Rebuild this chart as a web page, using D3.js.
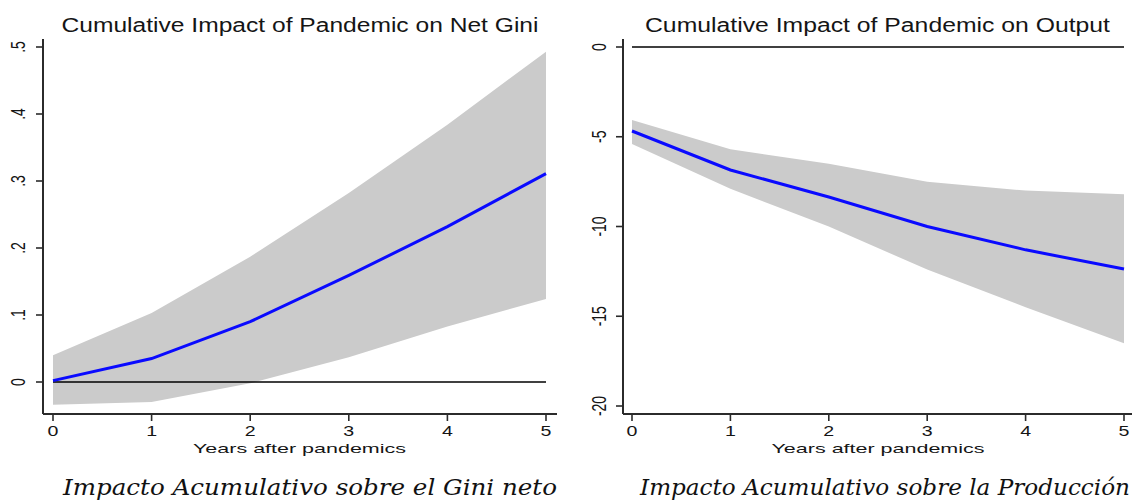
<!DOCTYPE html>
<html>
<head>
<meta charset="utf-8">
<script src="https://cdn.jsdelivr.net/npm/d3@7"></script>
<style>
  body { margin: 0; background: #fff; }
  svg { display: block; }
</style>
</head>
<body>
<script>
window.onload = main;

// years after the pandemic
const years = [0, 1, 2, 3, 4, 5];

// cumulative impact on net Gini
const giniMean  = [0.002, 0.035, 0.090, 0.159, 0.232, 0.311];
const giniUpper = [0.040, 0.103, 0.187, 0.282, 0.384, 0.493];
const giniLower = [-0.034, -0.030, -0.002, 0.037, 0.083, 0.124];
const giniTicks = [0, 0.1, 0.2, 0.3, 0.4, 0.5];
const giniTickLabels = ["0", ".1", ".2", ".3", ".4", ".5"];

// cumulative impact on output
const outMean  = [-4.68, -6.85, -8.36, -10.0, -11.3, -12.37];
const outUpper = [-4.07, -5.7, -6.5, -7.5, -8.0, -8.2];
const outLower = [-5.4, -7.9, -10.0, -12.4, -14.5, -16.5];
const outTicks = [0, -5, -10, -15, -20];
const outTickLabels = ["0", "-5", "-10", "-15", "-20"];

const titles = ["Cumulative Impact of Pandemic on Net Gini", "Cumulative Impact of Pandemic on Output"];
const captions = ["Impacto Acumulativo sobre el Gini neto", "Impacto Acumulativo sobre la Producción"];
const xAxisTitle = "Years after pandemics";

const svgWidth = 1132;
const svgHeight = 500;
const sx = 1.4; // the picture is stretched sideways

function main() {
    const svg = d3.select("body")
        .append("svg")
        .attr("width", svgWidth)
        .attr("height", svgHeight);

    draw_panel(svg, {
        mean: giniMean, upper: giniUpper, lower: giniLower,
        ticks: giniTicks, tickLabels: giniTickLabels,
        yDomain: [0, 0.5], yRange: [382, 47],
        xRange: [53, 546], axisX: 43, axisEnd: 557,
        title: titles[0], titleLen: 477,
        caption: captions[0], captionX: 310, captionLen: 494,
        labelX: 25
    });

    draw_panel(svg, {
        mean: outMean, upper: outUpper, lower: outLower,
        ticks: outTicks, tickLabels: outTickLabels,
        yDomain: [-20, 0], yRange: [406, 47],
        xRange: [632, 1124], axisX: 623, axisEnd: 1132,
        title: titles[1], titleLen: 465,
        caption: captions[1], captionX: 885, captionLen: 490,
        labelX: 606
    });
}

function draw_panel(svg, cfg) {
    const axisY = 414, axisTop = 39;
    const axisColor = "#2b2b2b";
    const fontSans = "'Liberation Sans', Arial, sans-serif";

    const x = d3.scaleLinear().domain([0, 5]).range(cfg.xRange);
    const y = d3.scaleLinear().domain(cfg.yDomain).range(cfg.yRange);

    const rows = years.map((yr, i) => ({yr, m: cfg.mean[i], hi: cfg.upper[i], lo: cfg.lower[i]}));

    const g = svg.append("g");

    // confidence band
    const area = d3.area()
        .x(d => x(d.yr))
        .y0(d => y(d.lo))
        .y1(d => y(d.hi));
    g.append("path")
        .datum(rows)
        .attr("d", area)
        .attr("fill", "#cbcbcb");

    // zero line
    g.append("line")
        .attr("x1", x(0)).attr("x2", x(5))
        .attr("y1", y(0)).attr("y2", y(0))
        .attr("stroke", "#000")
        .attr("stroke-width", 1.6);

    // point estimate
    const line = d3.line()
        .x(d => x(d.yr))
        .y(d => y(d.m));
    g.append("path")
        .datum(rows)
        .attr("d", line)
        .attr("fill", "none")
        .attr("stroke", "#0a0aff")
        .attr("stroke-width", 3);

    // axes lines
    g.append("line")
        .attr("x1", cfg.axisX).attr("x2", cfg.axisX)
        .attr("y1", axisTop).attr("y2", axisY)
        .attr("stroke", axisColor).attr("stroke-width", 2);
    g.append("line")
        .attr("x1", cfg.axisX).attr("x2", cfg.axisEnd)
        .attr("y1", axisY).attr("y2", axisY)
        .attr("stroke", axisColor).attr("stroke-width", 2);

    // x ticks
    const xt = g.append("g").selectAll(null).data(years).join("g");
    xt.append("line")
        .attr("x1", d => x(d)).attr("x2", d => x(d))
        .attr("y1", axisY).attr("y2", axisY + 7)
        .attr("stroke", axisColor).attr("stroke-width", 1.6);
    xt.append("text")
        .attr("transform", d => `translate(${x(d)},436) scale(${sx},1)`)
        .attr("text-anchor", "middle")
        .style("font-family", fontSans)
        .style("font-size", "14px")
        .attr("fill", "#151515")
        .text(d => d);

    // y ticks
    const yt = g.append("g").selectAll(null).data(cfg.ticks).join("g");
    yt.append("line")
        .attr("x1", cfg.axisX - 7).attr("x2", cfg.axisX)
        .attr("y1", d => y(d)).attr("y2", d => y(d))
        .attr("stroke", axisColor).attr("stroke-width", 1.6);
    yt.append("text")
        .attr("transform", d => `translate(${cfg.labelX},${y(d)}) scale(${sx},1) rotate(-90)`)
        .attr("text-anchor", "middle")
        .style("font-family", fontSans)
        .style("font-size", "14px")
        .attr("fill", "#151515")
        .text((d, i) => cfg.tickLabels[i]);

    const midX = (cfg.axisX + cfg.axisEnd) / 2;

    // x axis title
    g.append("text")
        .attr("x", (x(0) + x(5)) / 2)
        .attr("y", 453)
        .attr("text-anchor", "middle")
        .attr("textLength", 213)
        .attr("lengthAdjust", "spacingAndGlyphs")
        .style("font-family", fontSans)
        .style("font-size", "13.5px")
        .attr("fill", "#151515")
        .text(xAxisTitle);

    // panel title
    g.append("text")
        .attr("x", midX)
        .attr("y", 32)
        .attr("text-anchor", "middle")
        .attr("textLength", cfg.titleLen)
        .attr("lengthAdjust", "spacingAndGlyphs")
        .style("font-family", fontSans)
        .style("font-size", "20px")
        .attr("fill", "#151515")
        .text(cfg.title);

    // caption under the panel
    g.append("text")
        .attr("x", cfg.captionX)
        .attr("y", 495)
        .attr("text-anchor", "middle")
        .attr("textLength", cfg.captionLen)
        .attr("lengthAdjust", "spacingAndGlyphs")
        .style("font-family", "'DejaVu Serif', Georgia, serif")
        .style("font-style", "italic")
        .style("font-size", "23px")
        .attr("fill", "#111")
        .text(cfg.caption);
}
</script>
</body>
</html>
